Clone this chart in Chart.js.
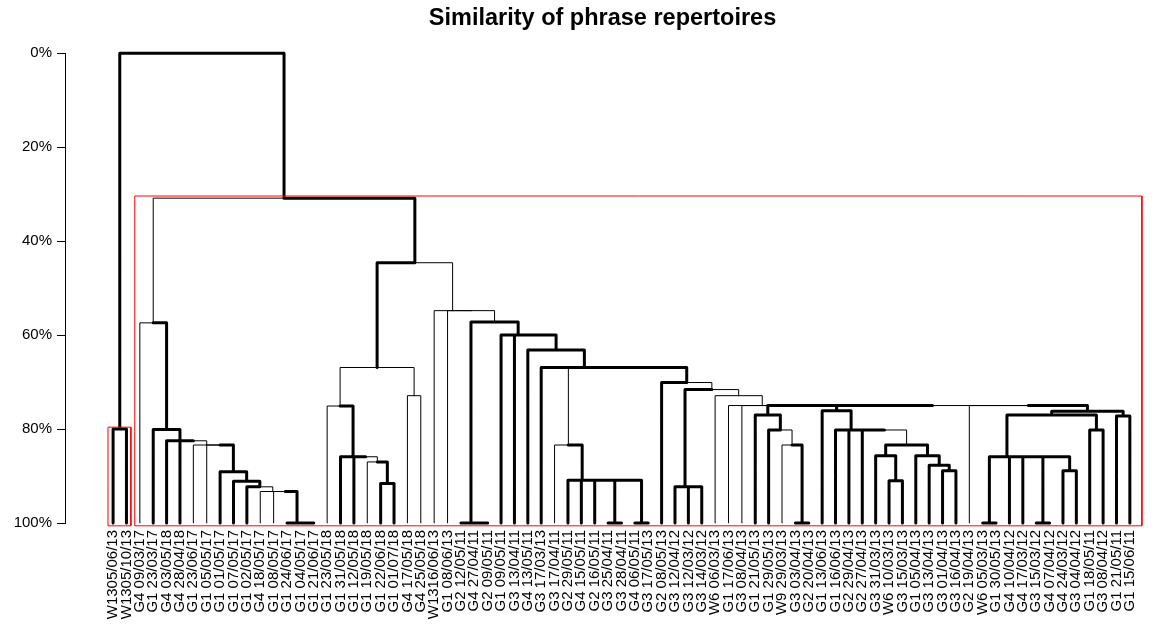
<!DOCTYPE html>
<html>
<head>
<meta charset="utf-8">
<title>Similarity of phrase repertoires</title>
<script src="https://cdn.jsdelivr.net/npm/chart.js@4.4.1/dist/chart.umd.min.js"></script>
<style>
    html, body { margin: 0; padding: 0; background: #fff; }
    #wrap { width: 1155px; height: 627px; }
</style>
</head>
<body>
<div id="wrap"><canvas id="chart-dendro" width="1155" height="627"></canvas></div>
<script>
// leaf labels, left to right
const leafLabels = [
    "W1305/06/13", "W1305/10/13", "G4 09/03/17", "G1 23/03/17", "G4 03/05/18", "G4 28/04/18", "G1 23/06/17",
    "G1 05/05/17", "G1 01/05/17", "G1 07/05/17", "G1 02/05/17", "G4 18/05/17", "G1 08/05/17", "G1 24/06/17",
    "G1 04/05/17", "G1 21/06/17", "G1 23/05/18", "G1 31/05/18", "G1 12/05/18", "G1 19/05/18", "G1 22/06/18",
    "G1 01/07/18", "G4 17/05/18", "G4 25/05/18", "W1316/06/13", "G1 08/06/13", "G2 12/05/11", "G4 27/04/11",
    "G2 09/05/11", "G1 09/05/11", "G3 13/04/11", "G4 13/05/11", "G3 17/03/13", "G3 17/04/11", "G2 29/05/11",
    "G4 15/05/11", "G2 16/05/11", "G3 25/04/11", "G3 28/04/11", "G4 06/05/11", "G3 17/05/13", "G2 08/05/13",
    "G3 12/04/12", "G3 12/03/12", "G3 14/03/12", "W6 06/03/13", "G1 17/06/13", "G3 08/04/13", "G1 21/05/13",
    "G1 29/05/13", "W9 29/03/13", "G3 03/04/13", "G2 20/04/13", "G1 13/06/13", "G1 16/06/13", "G2 29/04/13",
    "G2 27/04/13", "G3 31/03/13", "W6 10/03/13", "G3 15/03/13", "G1 05/04/13", "G3 13/04/13", "G3 01/04/13",
    "G3 16/04/13", "G2 19/04/13", "W6 05/03/13", "G1 30/05/13", "G4 10/04/12", "G4 17/03/12", "G3 15/03/12",
    "G4 07/04/12", "G4 24/03/12", "G3 04/04/12", "G1 18/05/11", "G3 08/04/12", "G1 21/05/11", "G1 15/06/11"
];

// 1 = supported (thick) edge above each leaf
const leafBold = [
    1, 1, 0, 1, 1, 1, 0, 0, 1, 1,
    1, 0, 0, 1, 1, 1, 0, 1, 1, 0,
    1, 1, 0, 0, 0, 0, 1, 1, 1, 1,
    1, 1, 1, 0, 1, 1, 1, 1, 1, 1,
    1, 1, 1, 1, 1, 0, 0, 0, 1, 1,
    0, 1, 1, 1, 1, 1, 1, 1, 1, 1,
    1, 1, 1, 1, 0, 1, 1, 1, 1, 1,
    1, 1, 1, 1, 1, 1, 1
];

// merges (hclust style: negative = leaf, positive = earlier merge)
const mergeLeft = [
    -1, -15, -14, -13, -12, -11, -10, -9, -8, -7,
    -6, -5, -4, -3, -21, -20, -19, -18, -17, -23,
    19, -28, -27, -40, -38, 25, -37, -36, -35, -34,
    -44, -43, -52, -51, -50, -49, -63, -62, -61, -59,
    -58, 41, -57, -56, -55, -54, -66, -70, -72, 48,
    -69, -68, 47, -74, 53, -76, 55, -65, 46, 36,
    -48, -47, -46, 32, -42, 30, -33, -32, -31, -30,
    23, -26, -25, 21, 14, 1
];
const mergeRight = [
    -2, -16, 2, 3, 4, 5, 6, 7, 8, 9,
    10, 11, 12, 13, -22, 15, 16, 17, 18, -24,
    20, -29, 22, -41, -39, 24, 26, 27, 28, 29,
    -45, 31, -53, 33, 34, 35, -64, 37, 38, -60,
    40, 39, 42, 43, 44, 45, -67, -71, -73, 49,
    50, 51, 52, -75, 54, -77, 56, 57, 58, 59,
    60, 61, 62, 63, 64, 65, 66, 67, 68, 69,
    70, 71, 72, 73, 74, 75
];
// merge level, % (0 = top, 100 = identical)
const mergeHeight = [
    80.0, 100, 100, 93.3, 93.3, 92.3, 91.1, 89.1, 83.4, 83.4,
    82.5, 82.5, 80.1, 57.4, 91.6, 87.0, 85.9, 85.9, 75.1, 72.9,
    66.9, 100, 100, 100, 100, 90.9, 90.9, 90.9, 90.9, 83.4,
    92.3, 92.3, 100, 83.4, 80.2, 77.0, 88.9, 87.7, 85.7, 91.0,
    85.7, 83.4, 80.2, 80.2, 80.2, 76.1, 100, 100, 88.9, 85.9,
    85.9, 85.9, 85.9, 80.2, 77.0, 77.2, 76.2, 75.0, 75.0, 75.0,
    75.0, 75.0, 72.9, 71.6, 70.1, 66.9, 66.9, 63.2, 60.0, 60.0,
    57.2, 54.8, 54.8, 44.6, 30.85, 0
];
const mergeBold = [
    1, 1, 1, 0, 0, 1, 1, 1, 0, 0,
    1, 1, 1, 0, 1, 0, 1, 1, 0, 0,
    1, 1, 1, 1, 1, 1, 1, 1, 1, 0,
    1, 1, 1, 0, 1, 1, 1, 1, 1, 1,
    1, 0, 1, 1, 1, 1, 1, 1, 1, 1,
    1, 1, 1, 1, 1, 1, 1, 0, 1, 1,
    0, 0, 0, 0, 1, 1, 1, 1, 1, 1,
    0, 0, 0, 1, 1, 1
];

// clusters boxed in red (edges in leaf units)
const clusterLeft = [0.62, 2.62];
const clusterRight = [2.33, 77.9];
const clusterTop = [79.6, 30.4];

const yTicks = [0, 20, 40, 60, 80, 100];


// 노드 위치
const nodeX = [];
const posOf = ref => ref < 0 ? -ref : nodeX[ref - 1];
const heightOf = ref => ref < 0 ? 100 : mergeHeight[ref - 1];
const boldOf = ref => ref < 0 ? leafBold[-ref - 1] : mergeBold[ref - 1];

mergeLeft.forEach((left, i) => {
    nodeX.push((posOf(left) + posOf(mergeRight[i])) / 2);
});

// 가지: child -> up to merge level -> across to merge position
const thinEdges = [];
const boldEdges = [];

mergeLeft.forEach((left, i) => {
    const px = nodeX[i];
    const ph = mergeHeight[i];
    [left, mergeRight[i]].forEach(child => {
        const target = boldOf(child) ? boldEdges : thinEdges;
        target.push(
            { x: posOf(child), y: heightOf(child) },
            { x: posOf(child), y: ph },
            { x: px, y: ph },
            { x: null, y: null }
        );
    });
});

const boxes = [];
clusterLeft.forEach((x0, i) => {
    const x1 = clusterRight[i];
    const top = clusterTop[i];
    boxes.push(
        { x: x0, y: 100.6 }, { x: x0, y: top }, { x: x1, y: top },
        { x: x1, y: 100.6 }, { x: x0, y: 100.6 }, { x: null, y: null }
    );
});

const lineStyle = {
    pointRadius: 0,
    pointHoverRadius: 0,
    spanGaps: false,
    tension: 0,
    fill: false,
    clip: false,
    borderCapStyle: 'round',
    borderJoinStyle: 'round'
};

Chart.defaults.font.family = "'Liberation Sans', Arial, Helvetica, sans-serif";
Chart.defaults.color = '#000';

const config_dendro = {
    type: 'line',
    data: {
        datasets: [
            Object.assign({ data: boxes, borderColor: '#ff0000', borderWidth: 1 }, lineStyle, { borderJoinStyle: 'miter', borderCapStyle: 'butt' }),
            Object.assign({ data: thinEdges, borderColor: '#000', borderWidth: 1 }, lineStyle),
            Object.assign({ data: boldEdges, borderColor: '#000', borderWidth: 3 }, lineStyle)
        ]
    },
    options: {
        responsive: false,
        animation: false,
        devicePixelRatio: 1,
        layout: {
            padding: { left: 0, right: 10, top: 0, bottom: 0 }
        },
        scales: {
            x: {
                type: 'linear',
                min: -2.594,
                max: 77.763,
                grid: { display: false, drawTicks: false },
                border: { display: false },
                afterBuildTicks: axis => {
                    axis.ticks = leafLabels.map((_, i) => ({ value: i + 1 }));
                },
                afterFit: axis => { axis.height = 104; },
                ticks: {
                    autoSkip: false,
                    minRotation: 90,
                    maxRotation: 90,
                    padding: 7,
                    font: { size: 15 },
                    color: '#000',
                    callback: value => leafLabels[Math.round(value) - 1]
                }
            },
            y: {
                type: 'linear',
                reverse: true,
                min: 0,
                max: 100,
                grid: {
                    display: true,
                    drawOnChartArea: false,
                    drawTicks: true,
                    tickLength: 8,
                    color: '#000',
                    lineWidth: 1
                },
                border: { display: true, color: '#000', width: 1 },
                afterBuildTicks: axis => {
                    axis.ticks = yTicks.map(v => ({ value: v }));
                },
                afterFit: axis => { axis.width = 65; },
                ticks: {
                    padding: 5,
                    font: { size: 15 },
                    color: '#000',
                    callback: value => value + '%'
                }
            }
        },
        plugins: {
            legend: { display: false },
            tooltip: { enabled: false },
            title: {
                display: true,
                fullSize: false,
                text: 'Similarity of phrase repertoires',
                color: '#000',
                font: { size: 23.5, weight: 'bold' },
                padding: { top: 4, bottom: 21 }
            }
        }
    }
};

const dendroChart = new Chart(document.getElementById('chart-dendro'), config_dendro);
</script>
</body>
</html>
